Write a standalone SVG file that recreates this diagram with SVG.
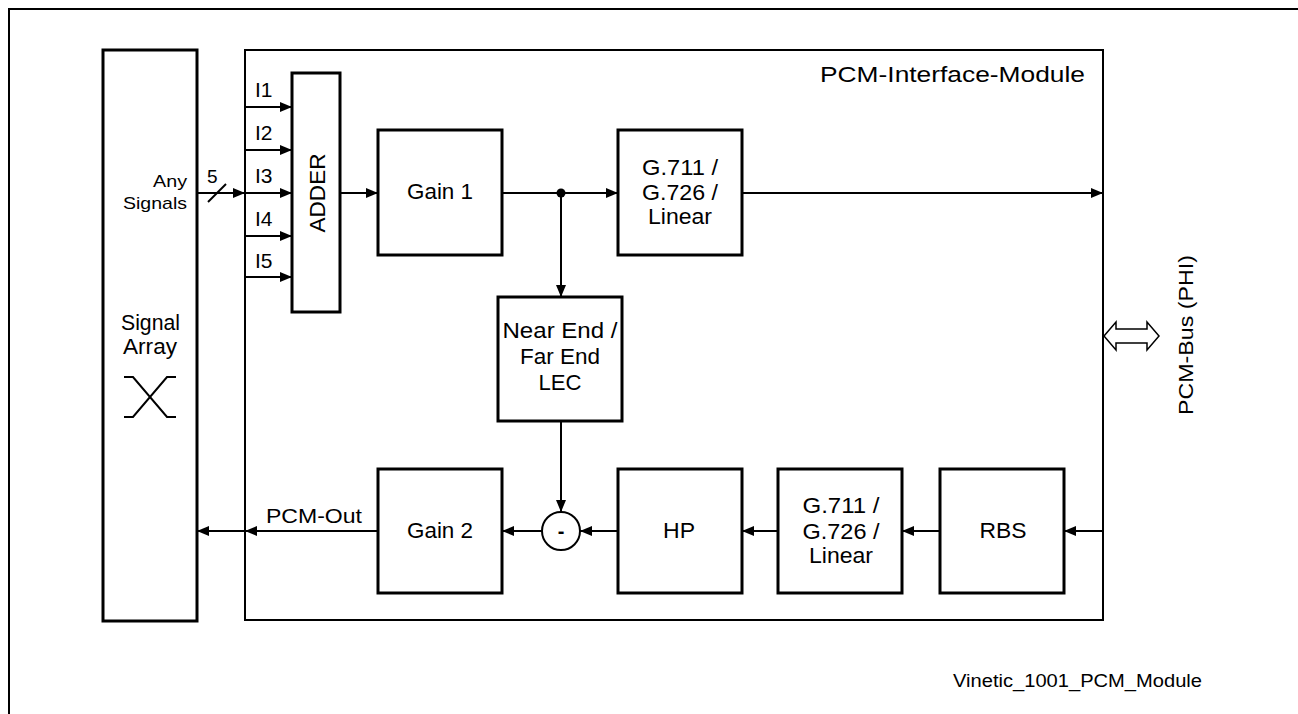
<svg xmlns="http://www.w3.org/2000/svg" width="1298" height="714" viewBox="0 0 1298 714">
<defs>
<marker id="ah" markerWidth="12" markerHeight="10" refX="12" refY="5" orient="auto" markerUnits="userSpaceOnUse">
<path d="M0,0 L12,5 L0,10 Z" fill="#000"/>
</marker>
<style>
text{font-family:"Liberation Sans",Arial,sans-serif;fill:#000}
.lbl{font-size:22px;text-anchor:middle}
.box{fill:#fff;stroke:#000;stroke-width:3}
.ln{fill:none;stroke:#000;stroke-width:2}
.in{font-size:21px}
</style>
</defs>
<rect width="1298" height="714" fill="#fff"/>
<path d="M9,714 V9 H1298" fill="none" stroke="#000" stroke-width="2"/>

<g id="module">
<rect x="245" y="50" width="858" height="570" fill="none" stroke="#000" stroke-width="2"/>
<text x="820" y="82" font-size="22" textLength="265" lengthAdjust="spacingAndGlyphs">PCM-Interface-Module</text>
</g>

<g id="signal-array">
<rect class="box" x="103" y="50" width="94" height="571"/>
<text x="153" y="187" font-size="17" textLength="34" lengthAdjust="spacingAndGlyphs">Any</text>
<text x="123" y="209" font-size="17" textLength="64" lengthAdjust="spacingAndGlyphs">Signals</text>
<text class="lbl" x="150.5" y="330" textLength="59" lengthAdjust="spacingAndGlyphs">Signal</text>
<text class="lbl" x="150" y="354" textLength="54" lengthAdjust="spacingAndGlyphs">Array</text>
<path class="ln" d="M124,377 H133 L167,417 H176 M176,377 H167 L133,417 H124"/>
</g>

<g id="adder">
<rect class="box" x="292" y="73" width="48" height="239"/>
<text class="lbl" transform="translate(325,193) rotate(-90)" textLength="79" lengthAdjust="spacingAndGlyphs">ADDER</text>
</g>

<g id="gain1">
<rect class="box" x="378" y="130" width="124" height="125"/>
<text class="lbl" x="440" y="199" textLength="66" lengthAdjust="spacingAndGlyphs">Gain 1</text>
</g>

<g id="codec-tx">
<rect class="box" x="618" y="130" width="124" height="125"/>
<text class="lbl" x="680" y="175" textLength="76" lengthAdjust="spacingAndGlyphs">G.711 /</text>
<text class="lbl" x="680" y="200" textLength="76" lengthAdjust="spacingAndGlyphs">G.726 /</text>
<text class="lbl" x="680" y="224" textLength="64" lengthAdjust="spacingAndGlyphs">Linear</text>
</g>

<g id="lec">
<rect class="box" x="498" y="297" width="124" height="124"/>
<text class="lbl" x="560" y="338" textLength="115" lengthAdjust="spacingAndGlyphs">Near End /</text>
<text class="lbl" x="560" y="364" textLength="80" lengthAdjust="spacingAndGlyphs">Far End</text>
<text class="lbl" x="560" y="390" textLength="43" lengthAdjust="spacingAndGlyphs">LEC</text>
</g>

<g id="subtract">
<circle cx="561" cy="531" r="19" fill="#fff" stroke="#000" stroke-width="2"/>
<text x="561" y="538" font-size="20" font-weight="bold" text-anchor="middle">-</text>
</g>

<g id="gain2">
<rect class="box" x="378" y="469" width="124" height="124"/>
<text class="lbl" x="440" y="538" textLength="66" lengthAdjust="spacingAndGlyphs">Gain 2</text>
</g>

<g id="hp">
<rect class="box" x="618" y="469" width="124" height="124"/>
<text class="lbl" x="679" y="538" textLength="32" lengthAdjust="spacingAndGlyphs">HP</text>
</g>

<g id="codec-rx">
<rect class="box" x="778" y="469" width="124" height="124"/>
<text class="lbl" x="841" y="513" textLength="77" lengthAdjust="spacingAndGlyphs">G.711 /</text>
<text class="lbl" x="841" y="539" textLength="77" lengthAdjust="spacingAndGlyphs">G.726 /</text>
<text class="lbl" x="841" y="563" textLength="64" lengthAdjust="spacingAndGlyphs">Linear</text>
</g>

<g id="rbs">
<rect class="box" x="940" y="469" width="124" height="124"/>
<text class="lbl" x="1003" y="538" textLength="47" lengthAdjust="spacingAndGlyphs">RBS</text>
</g>

<g id="pcm-bus">
<path d="M1104,336 L1116,322 V329 H1147 V322 L1159,336 L1147,350 V343 H1116 V350 Z" fill="#fff" stroke="#000" stroke-width="1.5"/>
<text font-size="21" text-anchor="middle" transform="translate(1193,335) rotate(-90)" textLength="160" lengthAdjust="spacingAndGlyphs">PCM-Bus (PHI)</text>
</g>

<g id="connectors">
<line class="ln" x1="197" y1="193" x2="245" y2="193" marker-end="url(#ah)"/>
<line class="ln" x1="208" y1="202" x2="226" y2="184"/>
<text x="207" y="183" font-size="19">5</text>
<line class="ln" x1="245" y1="107" x2="292" y2="107" marker-end="url(#ah)"/>
<line class="ln" x1="245" y1="150" x2="292" y2="150" marker-end="url(#ah)"/>
<line class="ln" x1="245" y1="193" x2="292" y2="193" marker-end="url(#ah)"/>
<line class="ln" x1="245" y1="236" x2="292" y2="236" marker-end="url(#ah)"/>
<line class="ln" x1="245" y1="277" x2="292" y2="277" marker-end="url(#ah)"/>
<text class="in" x="255" y="97">I1</text>
<text class="in" x="255" y="140">I2</text>
<text class="in" x="255" y="183">I3</text>
<text class="in" x="255" y="226">I4</text>
<text class="in" x="255" y="268">I5</text>
<line class="ln" x1="340" y1="193" x2="378" y2="193" marker-end="url(#ah)"/>
<line class="ln" x1="502" y1="193" x2="618" y2="193" marker-end="url(#ah)"/>
<circle cx="561" cy="193" r="4.5" fill="#000"/>
<line class="ln" x1="561" y1="193" x2="561" y2="297" marker-end="url(#ah)"/>
<line class="ln" x1="742" y1="193" x2="1103" y2="193" marker-end="url(#ah)"/>
<line class="ln" x1="561" y1="421" x2="561" y2="512" marker-end="url(#ah)"/>
<line class="ln" x1="1103" y1="531" x2="1064" y2="531" marker-end="url(#ah)"/>
<line class="ln" x1="940" y1="531" x2="902" y2="531" marker-end="url(#ah)"/>
<line class="ln" x1="778" y1="531" x2="742" y2="531" marker-end="url(#ah)"/>
<line class="ln" x1="618" y1="531" x2="580" y2="531" marker-end="url(#ah)"/>
<line class="ln" x1="542" y1="531" x2="502" y2="531" marker-end="url(#ah)"/>
<line class="ln" x1="378" y1="531" x2="245" y2="531" marker-end="url(#ah)"/>
<line class="ln" x1="245" y1="531" x2="197" y2="531" marker-end="url(#ah)"/>
<text x="266" y="523" font-size="21" textLength="96" lengthAdjust="spacingAndGlyphs">PCM-Out</text>
</g>

<text x="953" y="687" font-size="18" textLength="249" lengthAdjust="spacingAndGlyphs">Vinetic_1001_PCM_Module</text>
</svg>
